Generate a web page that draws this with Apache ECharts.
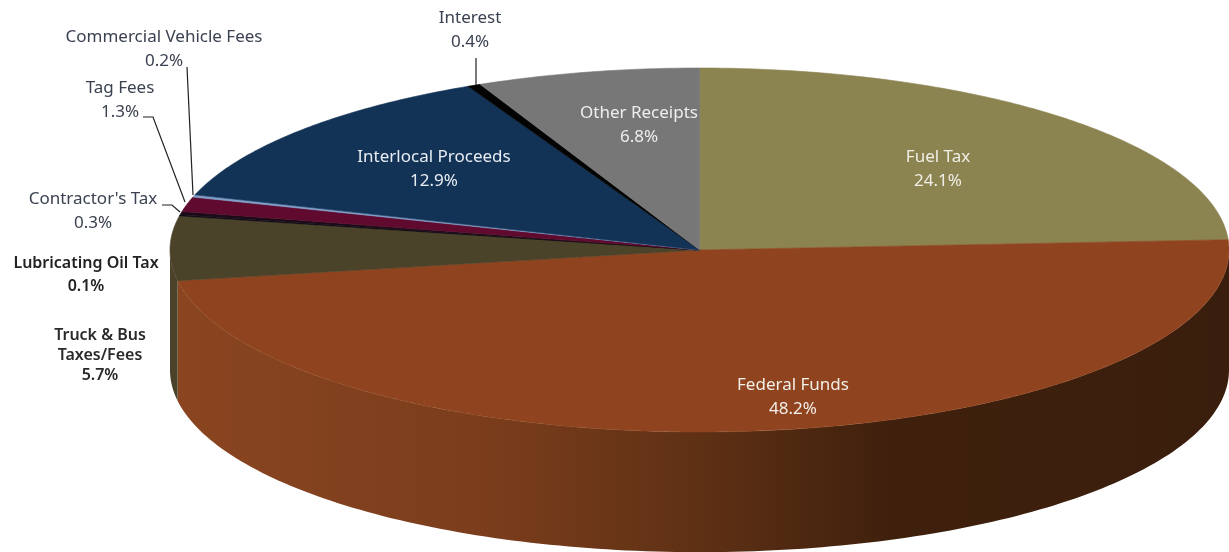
<!DOCTYPE html>
<html>
<head>
<meta charset="utf-8">
<style>html,body{margin:0;padding:0;background:#fff}#c{width:1229px;height:552px}</style>
<script src="https://cdn.jsdelivr.net/npm/echarts@6/dist/echarts.min.js"></script>
</head>
<body>
<div id="c"></div>
<script>
var categories = ['Fuel Tax','Federal Funds','Truck & Bus\nTaxes/Fees','Lubricating Oil Tax',"Contractor's Tax",'Tag Fees','Commercial Vehicle Fees','Interlocal Proceeds','Interest','Other Receipts'];
var values = [24.1,48.2,5.7,0.1,0.3,1.3,0.2,12.9,0.4,6.8];
var topColors = ['#8b8350','#8f441f','#4a4229','#0c0a10','#1c0c1a','#5f0a2e','#7f9fc9','#123256','#030303','#777777'];
var wallColors = ['#3a1e0d',null,'#4a4229','#0c0a10','#1c0c1a','#5f0a2e','#7f9fc9','#123256','#030303','#777777'];

// label centres (px), leader polylines (px), text styling
var labelAt = [[938,169],[793,397],[100,355],[86,275],[93,211],[120,100],[164,49],[434,169],[470,30],[639,125]];
var labelFill = ['#efefe6','#f2eee8','#2a2a2a','#222222','#3a4150','#3a4150','#3a4150','#e8edf2','#3a4150','#eeeeee'];
var labelWeight = [400,400,600,600,400,400,400,400,400,400];
var leaders = [
  [[476,58],[476,85]],
  [[187,67],[193,195]],
  [[143,117],[153,117],[185,202]],
  [[162,205],[172,205],[180,212]]
];
var depth = 0.66; // wall height in y-axis units (ellipse radius = 1)

var cum = [];
values.reduce(function(s,v,i){cum[i]=s;return s+v;},0);
var sliceData = values.map(function(v,i){return [cum[i],v,i];});
var FONT = '"Noto Sans"';

function ang(p){return p/100*Math.PI*2;}
function rim(api,t,dy){return api.coord([Math.sin(t),Math.cos(t)-(dy||0)]);}

var wallGradient = {type:'linear',x:0,y:0,x2:1,y2:0,colorStops:[
  {offset:0,color:'#8a4520'},{offset:0.3,color:'#7a3d1c'},{offset:0.5,color:'#5e3014'},
  {offset:0.68,color:'#3f200d'},{offset:1,color:'#3a1e0d'}]};

function renderWall(params,api){
  var i=api.value(2), a=ang(api.value(0)), b=ang(api.value(0)+api.value(1));
  var lo=Math.max(a,Math.PI/2), hi=Math.min(b,Math.PI*1.5);
  if(hi<=lo) return null;
  var pts=[],n=160,k;
  for(k=0;k<=n;k++) pts.push(rim(api,lo+(hi-lo)*k/n,0));
  for(k=n;k>=0;k--) pts.push(rim(api,lo+(hi-lo)*k/n,depth));
  var fill = i===1 ? wallGradient : wallColors[i];
  return {type:'polygon',shape:{points:pts},style:{fill:fill,stroke:null}};
}
function renderTop(params,api){
  var i=api.value(2), a=ang(api.value(0)), b=ang(api.value(0)+api.value(1));
  var pts=[api.coord([0,0])],n=Math.max(4,Math.ceil(api.value(1)*6)),k;
  for(k=0;k<=n;k++) pts.push(rim(api,a+(b-a)*k/n,0));
  return {type:'polygon',shape:{points:pts},style:{fill:topColors[i],stroke:topColors[i],lineWidth:0.6}};
}
function renderLabel(params,api){
  var i=api.value(2), c=labelAt[i];
  return {type:'text',style:{
    text:categories[i]+'\n'+values[i].toFixed(1)+'%',
    x:c[0],y:c[1],align:'center',verticalAlign:'middle',
    fontFamily:FONT,fontSize:i===2||i===3?16:17,fontWeight:labelWeight[i],lineHeight:i===2?20:23.5,
    fill:labelFill[i]}};
}

var chart = echarts.init(document.getElementById('c'),null,{renderer:'canvas'});
chart.setOption({
  animation:false,
  backgroundColor:'#ffffff',
  grid:{left:170,top:68,width:1060,height:364,containLabel:false},
  xAxis:{type:'value',min:-1,max:1,show:false},
  yAxis:{type:'value',min:-1,max:1,show:false},
  series:[
    {type:'custom',name:'wall',z:1,clip:false,silent:true,data:sliceData,renderItem:renderWall},
    {type:'custom',name:'top',z:2,clip:false,silent:true,data:sliceData,renderItem:renderTop},
    {type:'custom',name:'labels',z:3,clip:false,silent:true,data:sliceData,renderItem:renderLabel}
  ],
  graphic:leaders.map(function(p){
    return {type:'polyline',z:10,shape:{points:p},style:{stroke:'#222222',lineWidth:1.2,fill:null}};
  })
});
</script>
</body>
</html>
